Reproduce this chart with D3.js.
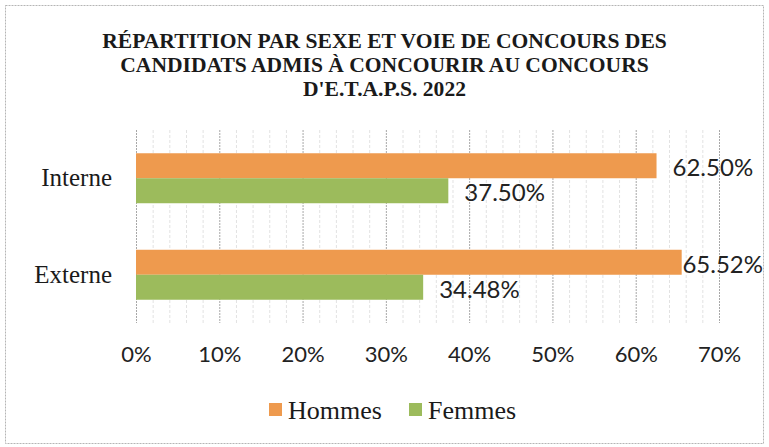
<!DOCTYPE html>
<html>
<head>
<meta charset="utf-8">
<script src="https://cdn.jsdelivr.net/npm/d3@7"></script>
<style>
  html, body { margin: 0; padding: 0; background: #fff; }
</style>
</head>
<body>
<div id="chart"></div>
<script>
// Répartition par sexe et voie de concours — barres horizontales groupées
var TITLE = ['RÉPARTITION PAR SEXE ET VOIE DE CONCOURS DES',
             'CANDIDATS ADMIS À CONCOURIR AU CONCOURS',
             "D'E.T.A.P.S. 2022"];
var CATEGORIES = ['Interne', 'Externe'];
var SERIES = ['Hommes', 'Femmes'];
var HOMMES = [62.50, 65.52];
var FEMMES = [37.50, 34.48];
var X_TICKS = [0, 10, 20, 30, 40, 50, 60, 70];
var COLORS = ['#EE9A4E', '#9CBB5C'];

var W = 769, H = 447;
var ml = 136, mt = 130;
var pw = 583, ph = 193;
var serif = '"Liberation Serif", "DejaVu Serif", serif';
var sans = 'Lato, "Open Sans", sans-serif';

var svg = d3.select('#chart').append('svg')
    .attr('width', W).attr('height', H);

// cadre pointillé
svg.append('rect').attr('x', 5.5).attr('y', 5.5).attr('width', W - 11).attr('height', H - 9)
    .attr('fill', 'none').attr('stroke', '#b5b5b5').attr('stroke-dasharray', '2,1');

// titre (ajusté à la largeur de la ligne la plus longue)
var titleSize = 20;
TITLE.forEach(function (t, i) {
    svg.append('text').attr('x', W / 2).attr('y', 48 + i * 24)
        .attr('text-anchor', 'middle').attr('font-family', serif)
        .attr('font-size', titleSize).attr('font-weight', 'bold').attr('fill', '#1a1a1a')
        .attr('class', 'title').text(t);
});
var first = svg.select('text.title').node();
var scale = 565 / first.getComputedTextLength();
svg.selectAll('text.title').attr('font-size', titleSize * scale);

var x = d3.scaleLinear().domain([0, 70]).range([ml, ml + pw]);
var y = d3.scaleBand().domain(CATEGORIES).range([mt, mt + ph])
    .paddingInner(0.482).paddingOuter(0.241);
var ySub = d3.scaleBand().domain(SERIES).range([0, y.bandwidth()]);

// grille : fine tous les 2 %, plus marquée tous les 10 %
d3.range(0, 71, 2).forEach(function (v) {
    var major = v % 10 === 0;
    svg.append('line').attr('x1', x(v) + 0.5).attr('x2', x(v) + 0.5)
        .attr('y1', mt).attr('y2', mt + ph)
        .attr('stroke', major ? '#a8a8a8' : '#e2e2e2')
        .attr('stroke-width', 1)
        .attr('stroke-dasharray', major ? '2,1' : '3,2');
});

// axe x (libellés seulement)
var xAxis = svg.append('g').attr('transform', 'translate(0,' + (mt + ph) + ')')
    .call(d3.axisBottom(x).tickValues(X_TICKS).tickSize(0).tickPadding(23)
        .tickFormat(function (d) { return d + '%'; }));
xAxis.select('.domain').remove();
xAxis.selectAll('text').attr('font-family', sans).attr('font-size', 22)
    .attr('fill', '#222');

// axe y
var yAxis = svg.append('g').attr('transform', 'translate(' + ml + ',0)')
    .call(d3.axisLeft(y).tickSize(0).tickPadding(24));
yAxis.select('.domain').remove();
yAxis.selectAll('text').attr('font-family', serif).attr('font-size', 25)
    .attr('fill', '#1a1a1a');

// barres
var rows = CATEGORIES.map(function (c, i) {
    return { cat: c, vals: [HOMMES[i], FEMMES[i]] };
});
function items(d) {
    return d.vals.map(function (v, k) { return { s: SERIES[k], v: v, k: k }; });
}
var g = svg.selectAll('g.cat').data(rows).enter().append('g')
    .attr('class', 'cat')
    .attr('transform', function (d) { return 'translate(0,' + y(d.cat) + ')'; });

g.selectAll('rect').data(items).enter().append('rect')
    .attr('x', x(0))
    .attr('y', function (d) { return ySub(d.s); })
    .attr('width', function (d) { return x(d.v) - x(0); })
    .attr('height', ySub.bandwidth())
    .attr('fill', function (d) { return COLORS[d.k]; });

// étiquettes : décalées vers la gauche si elles dépassent le cadre
g.selectAll('text.lbl').data(items).enter().append('text').attr('class', 'lbl')
    .attr('y', function (d) { return ySub(d.s) + ySub.bandwidth() / 2 + 2; })
    .attr('dy', '0.35em')
    .attr('font-family', sans).attr('font-size', 24).attr('fill', '#222')
    .text(function (d) { return d.v.toFixed(2) + '%'; })
    .attr('x', function (d) {
        var w = this.getComputedTextLength();
        return Math.min(x(d.v) + 16, 763 - w);
    });

// légende
var lx = [269, 409];
SERIES.forEach(function (s, k) {
    svg.append('rect').attr('x', lx[k]).attr('y', 403)
        .attr('width', 13).attr('height', 13).attr('fill', COLORS[k]);
    svg.append('text').attr('x', lx[k] + 19).attr('y', 419)
        .attr('font-family', serif).attr('font-size', 26).attr('fill', '#1a1a1a')
        .text(s);
});
</script>
</body>
</html>
